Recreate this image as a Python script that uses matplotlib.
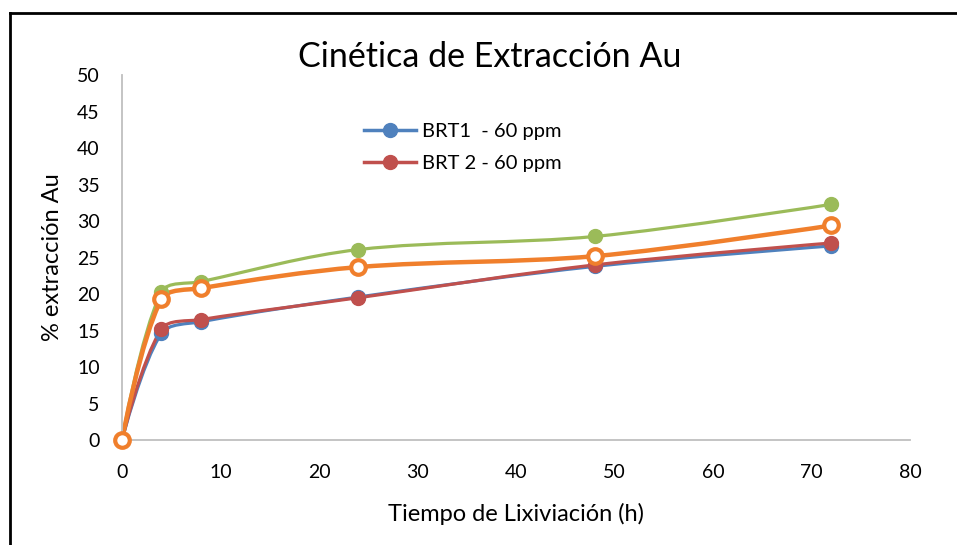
import matplotlib.pyplot as plt
from matplotlib.path import Path
from matplotlib.patches import PathPatch
from matplotlib.lines import Line2D

plt.rcParams['font.family'] = ['Lato', 'DejaVu Sans']

# tiempo de lixiviación (h)
tiempo = [0, 4, 8, 24, 48, 72]

# % extracción de Au
brt1 = [0, 14.6, 16.2, 19.6, 23.8, 26.6]
brt2 = [0, 15.2, 16.5, 19.5, 24.0, 27.0]
serie3 = [0, 20.3, 21.7, 26.1, 27.9, 32.3]
serie4 = [0, 19.3, 20.8, 23.7, 25.2, 29.4]

titulo = "Cinética de Extracción Au"
etiquetas = ["BRT1  - 60 ppm", "BRT 2 - 60 ppm"]

# escala aproximada en pixeles por unidad (para el suavizado)
SX, SY = 9.85, 7.3


def curva_suave(x, y):
    # línea suavizada: segmentos Bezier cúbicos con tangentes ponderadas por distancia
    pts = [(a * SX, b * SY) for a, b in zip(x, y)]
    n = len(pts)

    def dist(p, q):
        return ((p[0] - q[0]) ** 2 + (p[1] - q[1]) ** 2) ** 0.5

    verts = [pts[0]]
    codes = [Path.MOVETO]
    for i in range(n - 1):
        p0 = pts[i - 1] if i > 0 else pts[i]
        p1 = pts[i]
        p2 = pts[i + 1]
        p3 = pts[i + 2] if i + 2 < n else pts[i + 1]
        d01, d12, d23 = dist(p0, p1), dist(p1, p2), dist(p2, p3)
        f1 = d12 / (d01 + d12) / 1.5 if d01 > 0 else 0
        f2 = d12 / (d12 + d23) / 1.5 if d23 > 0 else 0
        c1 = (p1[0] + (p2[0] - p0[0]) * f1 / 2, p1[1] + (p2[1] - p0[1]) * f1 / 2)
        c2 = (p2[0] - (p3[0] - p1[0]) * f2 / 2, p2[1] - (p3[1] - p1[1]) * f2 / 2)
        verts += [c1, c2, p2]
        codes += [Path.CURVE4] * 3
    verts = [(a / SX, b / SY) for a, b in verts]
    return Path(verts, codes)


fig = plt.figure(figsize=(9.57, 5.45), dpi=100)
ax = fig.add_axes([0.1275, 0.1927, 0.8235, 0.6693])

series = [
    (brt1, '#4F81BD', 2.3, '#4F81BD'),
    (brt2, '#C0504D', 2.3, '#C0504D'),
    (serie3, '#9BBB59', 2.3, '#9BBB59'),
    (serie4, '#F07F2C', 3.2, 'white'),
]

for y, color, lw, cara in series:
    ax.add_patch(PathPatch(curva_suave(tiempo, y), fill=False, edgecolor=color,
                           linewidth=lw, capstyle='round', joinstyle='round',
                           clip_on=False))
    ax.plot(tiempo, y, 'o', color=color, markersize=10 if cara != 'white' else 10.5,
            markerfacecolor=cara, markeredgewidth=3 if cara == 'white' else 1,
            clip_on=False, zorder=3)

ax.set_xlim(0, 80)
ax.set_ylim(0, 50)
ax.set_xticks(range(0, 81, 10))
ax.set_yticks(range(0, 51, 5))
ax.tick_params(length=0, labelsize=14, colors='black')
ax.tick_params(axis='y', pad=16)
ax.tick_params(axis='x', pad=17)
for lado in ['top', 'right']:
    ax.spines[lado].set_visible(False)
for lado in ['left', 'bottom']:
    ax.spines[lado].set_color('#BFBFBF')
    ax.spines[lado].set_linewidth(1.3)

ax.set_xlabel("Tiempo de Lixiviación (h)", fontsize=17, labelpad=16)
ax.set_ylabel("% extracción Au", fontsize=17, labelpad=10)
fig.text(0.512, 0.896, titulo, fontsize=24.5, ha='center', va='center')

handles = [Line2D([], [], color=c, linewidth=2.5, marker='o', markersize=10)
           for c in ['#4F81BD', '#C0504D']]
ax.legend(handles, etiquetas, loc='upper left', bbox_to_anchor=(0.284, 0.92),
          frameon=False, fontsize=14.5, handlelength=2.6, handletextpad=0.3,
          labelspacing=0.75)

# marco del gráfico (solo izquierda y arriba dentro de la imagen)
x0 = 9.5 / 957
y0 = 1 - 12.5 / 545
fig.add_artist(Line2D([x0, x0], [0, y0], transform=fig.transFigure,
                      color='black', linewidth=2))
fig.add_artist(Line2D([x0, 1], [y0, y0], transform=fig.transFigure,
                      color='black', linewidth=2))

fig.savefig('out.png', dpi=100)
